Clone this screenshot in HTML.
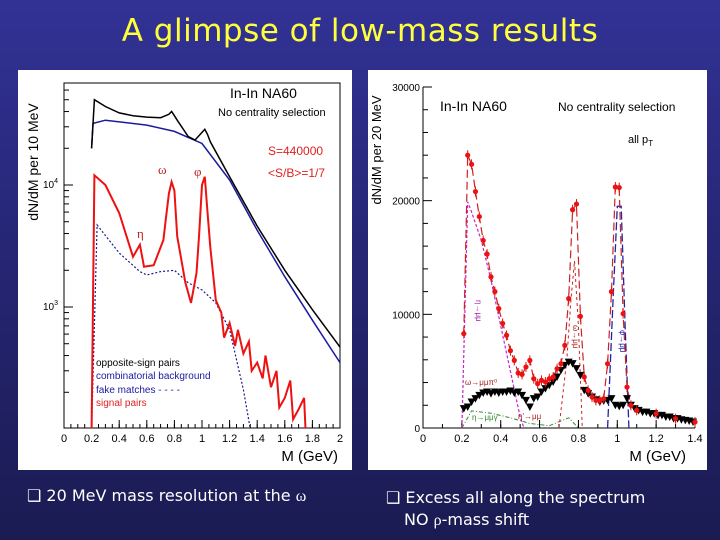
<!DOCTYPE html>
<html><head><meta charset="utf-8"><style>
html,body{margin:0;padding:0}
body{width:720px;height:540px;overflow:hidden;background:linear-gradient(to bottom,#323296 0%,#262676 45%,#1b1b52 100%);font-family:"DejaVu Sans","Liberation Sans",sans-serif;position:relative}
#title{position:absolute;left:0;width:720px;top:13px;text-align:center;color:#ffff3c;font-size:31px;letter-spacing:0.5px}
.txt{position:absolute;color:#fff;font-size:16px;white-space:nowrap}
svg{position:absolute;left:0;top:0}
</style></head><body>
<div id="title">A glimpse of low-mass results</div>
<svg id="chart" width="720" height="540"></svg>
<div class="txt" style="left:27px;top:486px">❑ 20 MeV mass resolution at the <span style="font-family:'Liberation Serif',serif">ω</span></div>
<div class="txt" style="left:386px;top:488px">❑ Excess all along the spectrum</div>
<div class="txt" style="left:404px;top:510px">NO <span style="font-family:'Liberation Serif',serif">ρ</span>-mass shift</div>
<script>
// ---------- LEFT chart data (log scale) ----------
const lMass = [0.2,0.22,0.3,0.4,0.5,0.6,0.7,0.76,0.78,0.8,0.82,0.9,0.95,1.0,1.02,1.04,1.06,1.2,1.4,1.6,1.8,2.0];
const lOpposite = [20000,50000,44000,39000,37000,36000,35600,38000,40000,37000,34000,25000,23400,27000,28600,26000,22600,11700,4600,2000,950,470];
const lBgMass = [0.2,0.21,0.3,0.6,0.8,1.0,1.2,1.4,1.6,1.8,2.0];
const lBackground = [20000,32000,34000,31000,27500,21900,11000,4250,1770,780,350];
const lSigMass = [0.2,0.22,0.3,0.4,0.5,0.55,0.58,0.65,0.72,0.74,0.76,0.78,0.8,0.82,0.88,0.92,0.96,0.98,1.0,1.02,1.04,1.06,1.1,1.14,1.16,1.2,1.24,1.26,1.3,1.34,1.36,1.4,1.44,1.46,1.5,1.54,1.56,1.6,1.64,1.66,1.7,1.74,1.75];
const lSignal = [100,12000,10000,5900,2580,3240,2140,2200,3540,5500,8500,10600,9000,3800,1580,1080,1900,4000,10000,11700,6000,3100,1140,900,560,740,480,650,415,520,300,350,260,400,220,300,150,180,250,120,145,180,100];
const lFakeMass = [0.2,0.24,0.4,0.55,0.6,0.7,0.8,0.9,1.0,1.1,1.2,1.25,1.3,1.35];
const lFake = [100,4700,2770,1950,1830,1950,2000,1580,1380,1080,650,370,210,100];
const lXTicks = ["0","0.2","0.4","0.6","0.8","1","1.2","1.4","1.6","1.8","2"];
// ---------- RIGHT chart data (linear) ----------
const rMass = [0.21,0.23,0.25,0.27,0.29,0.31,0.33,0.35,0.37,0.39,0.41,0.43,0.45,0.47,0.49,0.51,0.53,0.55,0.57,0.59,0.61,0.63,0.65,0.67,0.69,0.71,0.73,0.75,0.77,0.79,0.81,0.83,0.85,0.87,0.89,0.91,0.93,0.95,0.97,0.99,1.01,1.03,1.05,1.07,1.1,1.2,1.3,1.4];
const rData = [8300,24000,23200,20800,18600,16500,15300,13300,12000,10500,9200,8150,6800,5950,4840,4720,5370,5950,4340,3900,4190,4050,4340,4490,5220,5660,7270,11380,19200,19700,9820,4490,3310,2730,2430,2430,2580,5660,12000,21200,21150,10060,3600,2000,1550,1260,820,530];
const rExMass = [0.21,0.23,0.25,0.27,0.29,0.31,0.33,0.35,0.37,0.39,0.41,0.43,0.45,0.47,0.49,0.51,0.53,0.55,0.57,0.59,0.61,0.63,0.65,0.67,0.69,0.71,0.73,0.75,0.77,0.79,0.81,0.83,0.85,0.87,0.89,0.91,0.93,0.95,0.97,0.99,1.01,1.03,1.05,1.07,1.09,1.11,1.13,1.15,1.17,1.19,1.21,1.23,1.25,1.27,1.29,1.31,1.33,1.35,1.37,1.39];
const rExcess = [1700,1850,2290,2580,2870,3080,3170,3020,3170,3080,3170,3170,3250,3080,3170,2870,2430,1850,2580,2730,3170,3460,3750,4050,4490,5070,5510,5800,5660,5220,4630,3310,3020,2730,2490,2290,2370,2430,2580,2000,1900,2000,2580,2000,1700,1550,1400,1400,1260,1260,1110,1110,970,970,820,820,730,670,620,530];
const rEtaMass = [0.2,0.23,0.25,0.3,0.35,0.4,0.45,0.5,0.52];
const rEta = [0,19900,19000,16500,13000,9000,5000,1000,0];
const rOmMass = [0.7,0.74,0.76,0.78,0.8,0.82];
const rOmega = [0,6000,11000,14700,9000,0];
const rPhiMass = [0.95,0.98,1.0,1.02,1.04,1.06];
const rPhi = [0,12000,19500,19500,9000,0];
const rDalMass = [0.2,0.25,0.35,0.45,0.55,0.65,0.75,0.8];
const rDalitz = [0,1500,1300,900,400,200,900,0];
const rYTicks = ["0","10000","20000","30000"];
const rYTickVals = [0,10000,20000,30000];
const rXTicks = ["0","0.2","0.4","0.6","0.8","1","1.2","1.4"];

const NS="http://www.w3.org/2000/svg";
const svg=document.getElementById('chart');
function mk(tag,attrs,parent){const e=document.createElementNS(NS,tag);for(const k in attrs)e.setAttribute(k,attrs[k]);(parent||svg).appendChild(e);return e;}
function txt(x,y,s,attrs,parent){const t=mk('text',Object.assign({x:x,y:y,'font-family':'Liberation Sans, sans-serif','font-size':11,fill:'#000'},attrs),parent);t.textContent=s;return t;}

const pl=mk('rect',{x:18,y:70,width:334,height:400,fill:'#fff'});


const pr=mk('rect',{x:368,y:70,width:339,height:400,fill:'#fff'});



// ---- left axes
const L={x0:64,x1:340,y0:428,y1:83,xmin:0,xmax:2};
function lx(m){return L.x0+(m-L.xmin)/(L.xmax-L.xmin)*(L.x1-L.x0);}
function ly(v){return 185-(Math.log10(Math.max(v,1))-4)*122;}
const lframe=mk('rect',{x:L.x0,y:L.y1,width:L.x1-L.x0,height:L.y0-L.y1,fill:'none',stroke:'#000','stroke-width':1});


const lclip=mk('clipPath',{id:'lclip'});mk('rect',{x:L.x0,y:L.y1,width:L.x1-L.x0,height:L.y0-L.y1},lclip);
lXTicks.forEach((s,i)=>{const m=i*0.2;const x=lx(m);mk('line',{x1:x,y1:L.y0,x2:x,y2:L.y0-8,stroke:'#000'});
 const t=txt(x,442,s,{'text-anchor':'middle','font-size':11});
 
 });
for(let m=0;m<=2.001;m+=0.05){const x=lx(m);mk('line',{x1:x,y1:L.y0,x2:x,y2:L.y0-4,stroke:'#000'});}
for(let d=2;d<=4;d++){for(let k=1;k<10;k++){const v=k*Math.pow(10,d);const y=ly(v);if(y<L.y1||y>L.y0)continue;mk('line',{x1:L.x0,y1:y,x2:L.x0+(k==1?9:5),y2:y,stroke:'#000'});}}
[[3,307],[4,185]].forEach(([e,y])=>{const t=mk('text',{x:58,y:y+3,'font-family':'Liberation Sans, sans-serif','font-size':10,'text-anchor':'end'});t.innerHTML='10<tspan dy="-5" font-size="7">'+e+'</tspan>';
 
 });
const lyt=txt(0,0,'dN/dM per 10 MeV',{'font-size':14,transform:'translate(38,162) rotate(-90)','text-anchor':'middle'});


const lxt=txt(338,461,'M (GeV)',{'font-size':15,'text-anchor':'end'});



function lpath(ms,vs){let d='';ms.forEach((m,i)=>{const x=lx(m),y=ly(vs[i]);d+=(i?'L':'M')+x.toFixed(1)+','+y.toFixed(1);});return d;}
const gL=mk('g',{'clip-path':'url(#lclip)'});
const pf=mk('path',{d:lpath(lFakeMass,lFake),fill:'none',stroke:'#1a1a8a','stroke-width':1.2,'stroke-dasharray':'2,2'},gL);


const pb=mk('path',{d:lpath(lBgMass,lBackground),fill:'none',stroke:'#1a1aa0','stroke-width':1.5},gL);


const po=mk('path',{d:lpath(lMass,lOpposite),fill:'none',stroke:'#000','stroke-width':1.5},gL);


const ps=mk('path',{d:lpath(lSigMass,lSignal),fill:'none',stroke:'#ee1111','stroke-width':2},gL);



[['In-In  NA60',230,98,14,'#000'],['No centrality selection',218,116,11,'#000'],['S=440000',268,155,12,'#e02020'],['<S/B>=1/7',268,177,12,'#e02020']].forEach(a=>{const t=txt(a[1],a[2],a[0],{'font-size':a[3],fill:a[4]});
 
 });
[['ω',158,174],['φ',194,176],['η',137,238]].forEach(a=>{const t=txt(a[1],a[2],a[0],{'font-size':13,fill:'#c02020','font-family':'Liberation Serif, serif'});
 
 });
[['opposite-sign pairs','#000',366],['combinatorial background','#1a1aa0',379],['fake matches - - - -','#1a1aa0',393],['signal pairs','#e02020',406]].forEach(a=>{const t=txt(96,a[2],a[0],{'font-size':10,fill:a[1]});
 
 });

// ---- right axes
const R={x0:423,x1:695,y0:428,y1:87,xmax:1.4,ymax:30000};
function rx(m){return R.x0+m/R.xmax*(R.x1-R.x0);}
function ry(v){return R.y0-v/R.ymax*(R.y0-R.y1);}
const rframe=mk('path',{d:`M${R.x0},${R.y1}L${R.x0},${R.y0}L${R.x1},${R.y0}`,fill:'none',stroke:'#000','stroke-width':1});


rXTicks.forEach((s,i)=>{const m=i*0.2;const x=rx(m);mk('line',{x1:x,y1:R.y0,x2:x,y2:R.y0-8,stroke:'#000'});
 const t=txt(x,442,s,{'text-anchor':'middle','font-size':11});
 
 });
for(let m=0;m<=1.401;m+=0.1){const x=rx(m);mk('line',{x1:x,y1:R.y0,x2:x,y2:R.y0-4,stroke:'#000'});}
for(let v=0;v<=30000;v+=2000){const y=ry(v);mk('line',{x1:R.x0,y1:y,x2:R.x0+(v%10000==0?9:5),y2:y,stroke:'#000'});}
rYTicks.forEach((s,i)=>{const t=txt(420,ry(rYTickVals[i])+4,s,{'text-anchor':'end','font-size':10});
 
 });
const ryt=txt(0,0,'dN/dM per 20 MeV',{'font-size':13,transform:'translate(381,150) rotate(-90)','text-anchor':'middle'});


const rxt=txt(686,461,'M (GeV)',{'font-size':15,'text-anchor':'end'});



function rpath(ms,vs){let d='';ms.forEach((m,i)=>{d+=(i?'L':'M')+rx(m).toFixed(1)+','+ry(vs[i]).toFixed(1);});return d;}
const c1=mk('path',{d:rpath(rDalMass,rDalitz),fill:'none',stroke:'#338833','stroke-width':1,'stroke-dasharray':'4,2,1,2'});


const c2=mk('path',{d:rpath(rEtaMass,rEta),fill:'none',stroke:'#cc22cc','stroke-width':1.2,'stroke-dasharray':'3,2'});


const c3=mk('path',{d:rpath(rOmMass,rOmega),fill:'none',stroke:'#cc2222','stroke-width':1,'stroke-dasharray':'3,3'});


const c4=mk('path',{d:rpath(rPhiMass,rPhi),fill:'none',stroke:'#2222aa','stroke-width':1.3,'stroke-dasharray':'8,3'});


const c5=mk('path',{d:rpath(rMass,rData),fill:'none',stroke:'#cc2222','stroke-width':1.2,'stroke-dasharray':'8,4'});


rExMass.forEach((m,i)=>{const x=rx(m),y=ry(rExcess[i]);const p=mk('path',{d:`M${x-4},${y-3.5}L${x+4},${y-3.5}L${x},${y+4}Z`,fill:'#000'});
 
 });
rMass.forEach((m,i)=>{const x=rx(m),y=ry(rData[i]);mk('line',{x1:x,y1:y-5,x2:x,y2:y+5,stroke:'#dd1111','stroke-width':1});const c=mk('circle',{cx:x,cy:y,r:2.6,fill:'#ee1111'});
 
 });
[['In-In  NA60',440,111,14],['No centrality selection',558,111,12]].forEach(a=>{const t=txt(a[1],a[2],a[0],{'font-size':a[3]});
 
 });
const apt=mk('text',{x:628,y:143,'font-family':'Liberation Sans, sans-serif','font-size':11});apt.innerHTML='all p<tspan dy="3" font-size="8">T</tspan>';


[['η→μμ',476,300,'#aa22aa'],['ω→μμ',573,325,'#aa2222'],['φ→μμ',620,330,'#2222aa']].forEach(a=>{const t=txt(0,0,a[0],{'font-size':8,fill:a[3],transform:`translate(${a[1]},${a[2]}) rotate(90)`});
 
 });
[['ω→μμπ⁰',465,385,'#aa2222'],['η\'→μμ',518,419,'#aa2222'],['η→μμγ',472,420,'#338833']].forEach(a=>{const t=txt(a[1],a[2],a[0],{'font-size':8,fill:a[3]});
 
 });
</script>
</body></html>
